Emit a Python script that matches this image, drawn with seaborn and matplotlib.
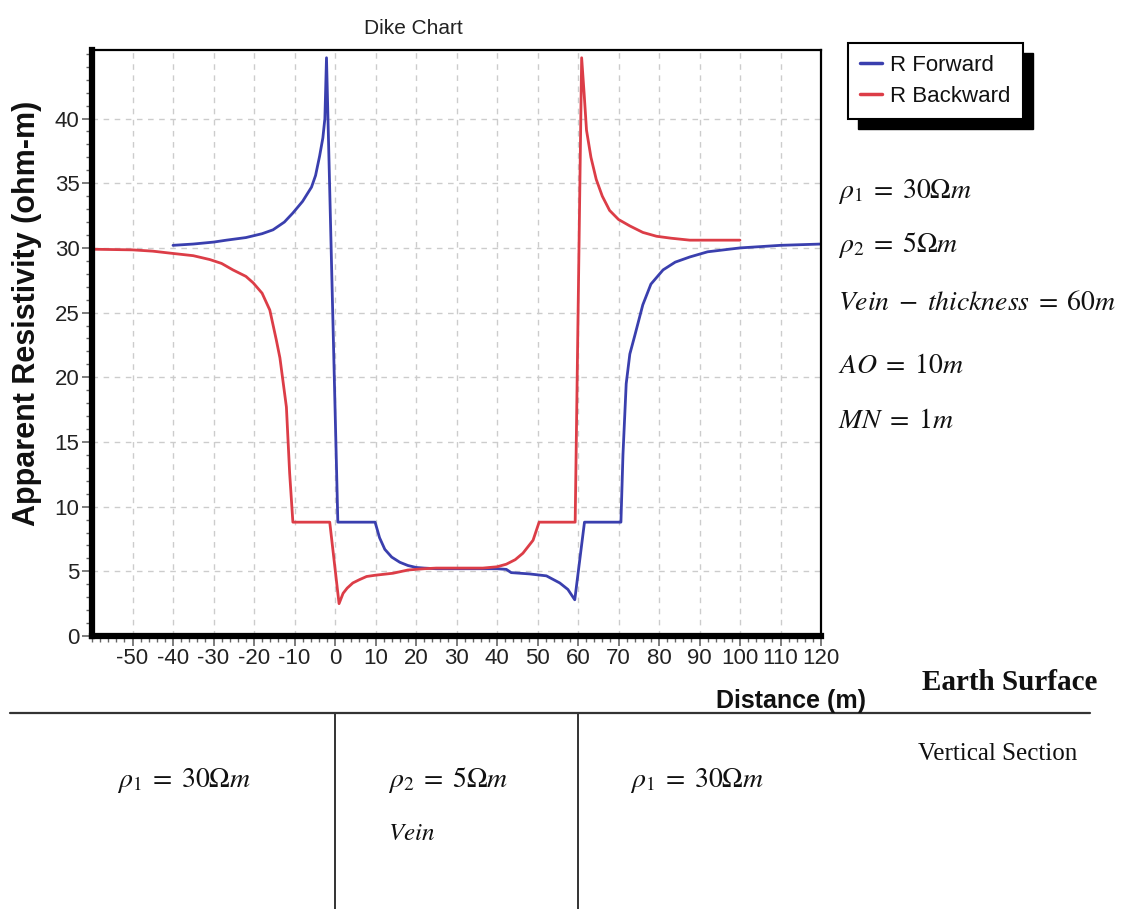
import numpy as np
import pandas as pd
import matplotlib
matplotlib.use("Agg")
import matplotlib.pyplot as plt
import matplotlib.transforms as mtransforms
from matplotlib.lines import Line2D
from matplotlib.patches import Rectangle
from matplotlib.ticker import MultipleLocator
import seaborn as sns

# ---------------- data ----------------
fwd_x = [-40, -35, -30, -26.8, -22, -18, -15.3, -12.5, -10.4, -8, -5.8, -4.8, -3.8, -3.0, -2.5, -2.1,
         0.7, 9.9, 11.0, 12.3, 14, 16, 18, 20, 22, 25, 30, 35, 40, 42.3, 43.5, 48, 52.2, 55.5, 57.5, 59.2,
         61.6, 70.6, 71.1, 71.9, 72.8, 74, 75, 76, 78, 81, 84, 87.6, 92, 100, 110, 120]
fwd_y = [30.2, 30.3, 30.45, 30.6, 30.8, 31.1, 31.4, 32.0, 32.7, 33.6, 34.7, 35.6, 37.1, 38.5, 40.0, 44.7,
         8.8, 8.8, 7.6, 6.7, 6.1, 5.7, 5.45, 5.3, 5.25, 5.2, 5.2, 5.2, 5.2, 5.15, 4.9, 4.8, 4.65, 4.1, 3.6, 2.8,
         8.8, 8.8, 14.0, 19.5, 21.8, 23.2, 24.4, 25.6, 27.2, 28.3, 28.9, 29.3, 29.7, 30.0, 30.2, 30.3]

bwd_x = [-60, -50, -45, -40.8, -35, -30.9, -28, -25.2, -22, -20.2, -18, -16.1, -14.5, -13.6, -12.0, -11.2,
         -10.4, -1.3, 1.0, 2.0, 3.0, 4.4, 6, 7.8, 10, 14.3, 18, 22, 25, 30, 36.5, 40, 42.3, 44.5, 46.4, 48.9,
         50.4, 59.3, 60.9, 61.5, 62.1, 63.2, 64.5, 66, 67.8, 70, 72.8, 76, 79.4, 83, 87.6, 93, 100]
bwd_y = [29.9, 29.85, 29.75, 29.6, 29.4, 29.1, 28.8, 28.3, 27.8, 27.3, 26.5, 25.2, 22.9, 21.5, 17.7, 12.6,
         8.8, 8.8, 2.5, 3.3, 3.7, 4.1, 4.35, 4.6, 4.7, 4.85, 5.1, 5.2, 5.25, 5.25, 5.25, 5.35, 5.55, 5.9, 6.4, 7.4,
         8.8, 8.8, 44.7, 42.0, 39.1, 37.0, 35.3, 34.0, 32.9, 32.2, 31.7, 31.2, 30.9, 30.75, 30.6, 30.6, 30.6]

series_names = ["R Forward", "R Backward"]
x_ticks = list(range(-50, 121, 10))
y_ticks = list(range(0, 41, 5))
vein_bounds = [0, 60]

params_text = [r"$\rho_1\;=\;30\Omega m$", r"$\rho_2\;=\;5\Omega m$",
               r"$Vein\;-\;thickness\;=\;60m$", r"$AO\;=\;10m$", r"$MN\;=\;1m$"]

BLUE = "#3a3fae"
RED = "#dc3d47"

# ---------------- style ----------------
sns.set_theme(style="white")
plt.rcParams["font.family"] = ["Liberation Sans", "DejaVu Sans"]
plt.rcParams["mathtext.fontset"] = "stix"
plt.rcParams["axes.unicode_minus"] = False

W, H = 1126, 909
fig = plt.figure(figsize=(W / 100, H / 100), dpi=100)
fig.patch.set_facecolor("white")


def fx(px):
    return px / W


def fy(py):
    return 1 - py / H


ax = fig.add_axes([fx(92), fy(636), fx(821) - fx(92), fy(50) - fy(636)])

df = pd.concat([
    pd.DataFrame({"x": fwd_x, "y": fwd_y, "s": series_names[0]}),
    pd.DataFrame({"x": bwd_x, "y": bwd_y, "s": series_names[1]}),
], ignore_index=True)

sns.lineplot(data=df, x="x", y="y", hue="s", palette=[BLUE, RED], estimator=None,
             sort=False, legend=False, ax=ax, linewidth=2.0)

ax.set_xlim(-60, 120)
ax.set_ylim(0, 45.3)
ax.set_xticks(x_ticks)
ax.set_yticks(y_ticks)
ax.xaxis.set_minor_locator(MultipleLocator(2))
ax.yaxis.set_minor_locator(MultipleLocator(1))
ax.tick_params(which="both", bottom=True, left=True, top=False, right=False, direction="out")
ax.tick_params(which="major", length=7, width=1.2, color="#666666", labelsize=16,
               labelcolor="#222222", pad=2)
ax.tick_params(which="minor", length=4, width=1.0, color="#666666")
ax.set_xlabel("")
ax.set_ylabel("")
ax.grid(True, which="major", color="#cccccc", linestyle=(0, (4, 4)), linewidth=1.0)

for side in ["left", "bottom"]:
    ax.spines[side].set_linewidth(4.5)
    ax.spines[side].set_color("black")
for side in ["top", "right"]:
    ax.spines[side].set_linewidth(1.6)
    ax.spines[side].set_color("black")
    ax.spines[side].set_visible(True)

# titles / labels
fig.text(fx(413), fy(28), "Dike Chart", ha="center", va="center", fontsize=15, color="#222222")
fig.text(fx(27), fy(313), "Apparent Resistivity (ohm-m)", rotation=90, ha="center", va="center",
         fontsize=22, fontweight="bold", color="#111111")
fig.text(fx(791), fy(701), "Distance (m)", ha="center", va="center", fontsize=18,
         fontweight="bold", color="#111111")

# legend
handles = [Line2D([], [], color=BLUE, lw=2.5), Line2D([], [], color=RED, lw=2.5)]
leg = fig.legend(handles, series_names, loc="upper left", bbox_to_anchor=(fx(848), fy(43)),
                 bbox_transform=fig.transFigure, frameon=True, fancybox=False, edgecolor="black",
                 framealpha=1, fontsize=16, handlelength=1.0, handletextpad=0.35, borderpad=0.55,
                 labelspacing=0.45, borderaxespad=0)
leg.get_frame().set_linewidth(1.5)
for t in leg.get_texts():
    t.set_color("#111111")
fig.canvas.draw()
bb = leg.get_window_extent()
shadow = Rectangle((bb.x0 + 10, bb.y0 - 10), bb.width, bb.height, transform=None,
                   facecolor="black", edgecolor="black", zorder=4)
fig.add_artist(shadow)

# parameter annotations on the right
baselines = [198, 252, 310, 373, 428]
for txt, b in zip(params_text, baselines):
    fig.text(fx(838), fy(b), txt, ha="left", va="baseline", fontsize=20, color="#111111")

# earth surface / vertical section
fig.text(fx(922), fy(690), "Earth Surface", ha="left", va="baseline", fontsize=21,
         fontweight="bold", family="Liberation Serif", color="#111111")
fig.text(fx(918), fy(760), "Vertical Section", ha="left", va="baseline", fontsize=18,
         family="Liberation Serif", color="#111111")
fig.add_artist(Line2D([fx(10), fx(1090)], [fy(713), fy(713)], transform=fig.transFigure,
                      color="#333333", lw=1.6))
trans = mtransforms.blended_transform_factory(ax.transData, fig.transFigure)
for xb in vein_bounds:
    fig.add_artist(Line2D([xb, xb], [fy(713), 0], transform=trans, color="#333333", lw=1.4))

fig.text(fx(117), fy(787), r"$\rho_1\;=\;30\Omega m$", ha="left", va="baseline", fontsize=20, color="#111111")
fig.text(fx(388), fy(787), r"$\rho_2\;=\;5\Omega m$", ha="left", va="baseline", fontsize=20, color="#111111")
fig.text(fx(388), fy(840), r"$Vein$", ha="left", va="baseline", fontsize=18, color="#111111")
fig.text(fx(630), fy(787), r"$\rho_1\;=\;30\Omega m$", ha="left", va="baseline", fontsize=20, color="#111111")

fig.savefig("out.png", dpi=100, facecolor="white")
